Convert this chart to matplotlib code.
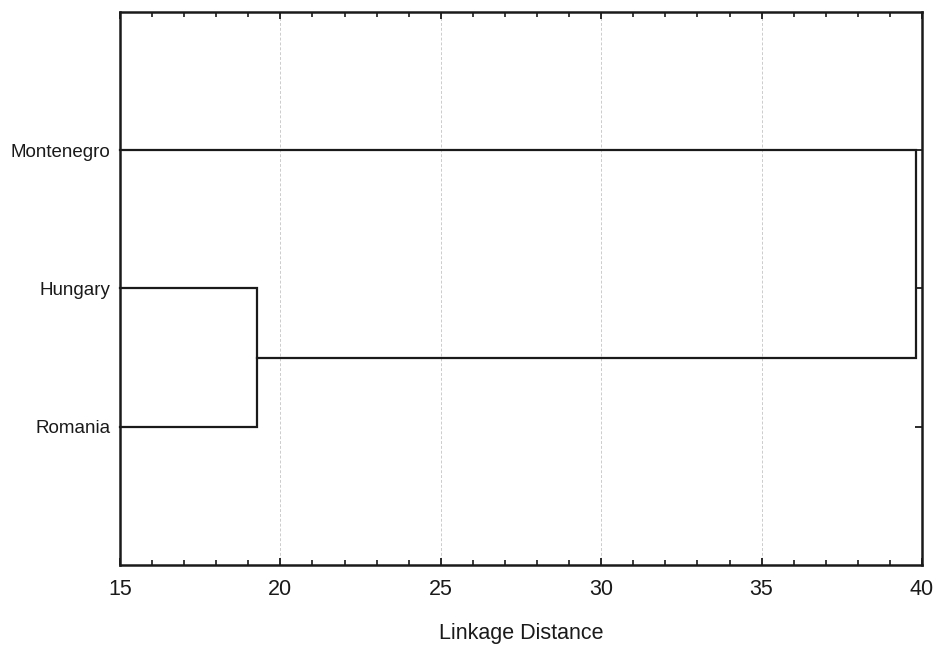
import numpy as np
import matplotlib
matplotlib.use("Agg")
import matplotlib.pyplot as plt
from matplotlib.ticker import MultipleLocator

plt.rcParams['font.family'] = ['Liberation Sans', 'DejaVu Sans']

# leaves, bottom to top
leaves = ["Romania", "Hungary", "Montenegro"]
leaf_pos = [1, 2, 3]
# linkage distances of the two joins
merge_dist = [19.27, 39.81]
x_min, x_max = 15, 40

fig = plt.figure(figsize=(9.39, 6.45), dpi=100)
ax = fig.add_axes([0.1278, 0.124, 0.8541, 0.8576])

lc = "#1a1a1a"
lw = 1.6

# first cluster: Romania + Hungary
d1 = merge_dist[0]
ax.plot([x_min, d1, d1, x_min], [leaf_pos[0], leaf_pos[0], leaf_pos[1], leaf_pos[1]],
        color=lc, lw=lw, solid_joinstyle="miter", clip_on=False)
c1 = (leaf_pos[0] + leaf_pos[1]) / 2

# second cluster: (Romania, Hungary) + Montenegro
d2 = merge_dist[1]
ax.plot([d1, d2, d2, x_min], [c1, c1, leaf_pos[2], leaf_pos[2]],
        color=lc, lw=lw, solid_joinstyle="miter", clip_on=False)

ax.set_xlim(x_min, x_max)
ax.set_ylim(0, 4)
ax.set_yticks(leaf_pos)
ax.set_yticklabels(leaves)
ax.xaxis.set_major_locator(MultipleLocator(5))
ax.xaxis.set_minor_locator(MultipleLocator(1))

ax.grid(axis="x", which="major", linestyle=(0, (3, 2)), color="#cccccc", lw=0.7)
ax.set_axisbelow(True)

ax.tick_params(axis="both", which="both", direction="in", top=True, right=True,
               color=lc, labelcolor="#1a1a1a")
ax.tick_params(axis="x", which="major", length=5, width=1.3, pad=10, labelsize=15.5)
ax.tick_params(axis="x", which="minor", length=3.5, width=1.2)
ax.tick_params(axis="y", which="major", length=5, width=1.3, pad=7, labelsize=13.5)

for s in ax.spines.values():
    s.set_linewidth(1.8)
    s.set_color(lc)

ax.set_xlabel("Linkage Distance", fontsize=15.5, labelpad=16.5, color="#1a1a1a")

fig.savefig("out.png", dpi=100)
